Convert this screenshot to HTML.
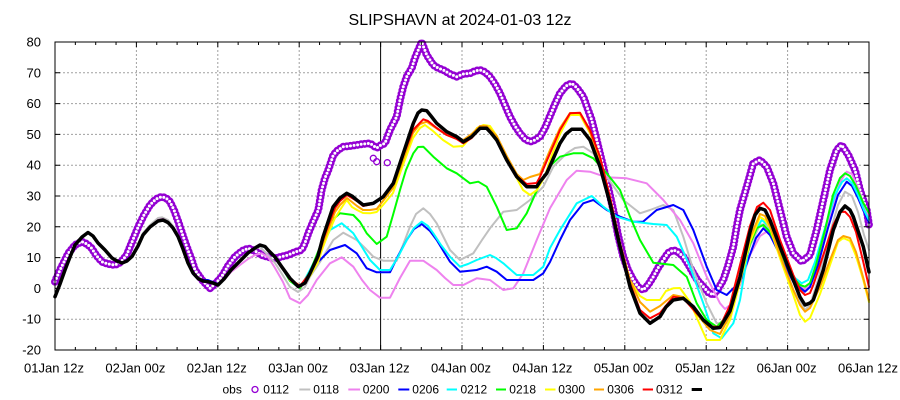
<!DOCTYPE html>
<html>
<head>
<meta charset="utf-8">
<style>
html,body{margin:0;padding:0;background:#fff;}
svg{display:block;}
text{font-family:"Liberation Sans",Arial,sans-serif;fill:#000;}
</style>
</head>
<body>
<svg width="900" height="400" viewBox="0 0 900 400" xmlns="http://www.w3.org/2000/svg">
<rect x="0" y="0" width="900" height="400" fill="#fff"/>
<text x="460" y="25" font-size="16" text-anchor="middle">SLIPSHAVN at 2024-01-03 12z</text>

<!-- grid -->
<g stroke="#a0a0a0" stroke-width="1" stroke-dasharray="2 2" fill="none">
<path d="M55 72.8H869M55 103.6H869M55 134.4H869M55 165.2H869M55 196H869M55 226.8H869M55 257.6H869M55 288.4H869M55 319.2H869"/>
<path d="M136.4 42V350M217.8 42V350M299.2 42V350M462 42V350M543.4 42V350M624.8 42V350M706.2 42V350M787.6 42V350"/>
</g>

<!-- cursor line -->
<line x1="380.6" y1="42" x2="380.6" y2="350" stroke="#000" stroke-width="1"/>

<!-- obs -->
<g fill="none" stroke-linecap="round" stroke-linejoin="round">
<polyline stroke="#9400d3" stroke-width="8" stroke-dasharray="0 3.6" points="55,281.7 60,270 68.3,253.3 75,245 81.7,241.7 87,244 91.7,248.3 96,255 101.7,261.7 108,264 115,265 121,262 126.7,255 132,242 138.3,226.7 144,215 150,205 156,199 161.7,196.7 166,198 170,201.7 174,210 178.3,221.7 182,233 186.7,246.7 191,258 195,270 202,280 210,288.3 216,283 221.7,276.7 228,266 235,256.7 242,251 248.3,248.3 255,251 261.7,255 268,257 275,258.3 282,256.5 288.3,255 295,252 301.7,250 305,243 308.3,233.3 313,222 318.3,210 321.7,190 325,178 328.3,170 333.3,155 338,150 343.3,146.7 350,146 356.7,145 363,144 370,143.3 376.7,148 381,145 385,143.3 390,130 396.7,116.7 400,100 403.3,86.7 407,76 411.7,68.3 415,58 418.3,50 421.7,42 426.7,55 433.3,65 438,68 443.3,70 450,74 456.7,76.7 463,74 470,73.3 475,71 480,70 485,72 490,76.7 495,84 500,93.3 505,105 510,116.7 515,126 520,133.3 525,139 530,141.7 535,140 540,136.7 545,128 550,116 555,104 560,93.3 566,86 571.7,83.3 577,88 583.3,96.7 587,107 591.7,120 596,137 600,153.3 607,182 613.3,210 618,235 623.3,256.7 628,270 633.3,280 638,287 643.3,290 648,285 653.3,276.7 658,268 663.3,260 668,253 673.3,250 678,252 683.3,256.7 688,264 693.3,273.3 698,281 703.3,286.7 708,292 713.3,295 718,289 723.3,280 728,266 733.3,246.7 737,225 740,210 746.7,186.7 753.3,163.3 760,160 766.7,166.7 773.3,183.3 780,210 786.7,236.7 793.3,253.3 801.7,261.7 810,255 816.7,230 823.3,200 830,170 836.7,150 841.7,145 848.3,155 855,170 860,190 866.7,210 869,225"/>
<polyline stroke="#fff" stroke-width="3" stroke-dasharray="0 3.6" points="55,281.7 60,270 68.3,253.3 75,245 81.7,241.7 87,244 91.7,248.3 96,255 101.7,261.7 108,264 115,265 121,262 126.7,255 132,242 138.3,226.7 144,215 150,205 156,199 161.7,196.7 166,198 170,201.7 174,210 178.3,221.7 182,233 186.7,246.7 191,258 195,270 202,280 210,288.3 216,283 221.7,276.7 228,266 235,256.7 242,251 248.3,248.3 255,251 261.7,255 268,257 275,258.3 282,256.5 288.3,255 295,252 301.7,250 305,243 308.3,233.3 313,222 318.3,210 321.7,190 325,178 328.3,170 333.3,155 338,150 343.3,146.7 350,146 356.7,145 363,144 370,143.3 376.7,148 381,145 385,143.3 390,130 396.7,116.7 400,100 403.3,86.7 407,76 411.7,68.3 415,58 418.3,50 421.7,42 426.7,55 433.3,65 438,68 443.3,70 450,74 456.7,76.7 463,74 470,73.3 475,71 480,70 485,72 490,76.7 495,84 500,93.3 505,105 510,116.7 515,126 520,133.3 525,139 530,141.7 535,140 540,136.7 545,128 550,116 555,104 560,93.3 566,86 571.7,83.3 577,88 583.3,96.7 587,107 591.7,120 596,137 600,153.3 607,182 613.3,210 618,235 623.3,256.7 628,270 633.3,280 638,287 643.3,290 648,285 653.3,276.7 658,268 663.3,260 668,253 673.3,250 678,252 683.3,256.7 688,264 693.3,273.3 698,281 703.3,286.7 708,292 713.3,295 718,289 723.3,280 728,266 733.3,246.7 737,225 740,210 746.7,186.7 753.3,163.3 760,160 766.7,166.7 773.3,183.3 780,210 786.7,236.7 793.3,253.3 801.7,261.7 810,255 816.7,230 823.3,200 830,170 836.7,150 841.7,145 848.3,155 855,170 860,190 866.7,210 869,225"/>
<circle cx="373.3" cy="158.3" r="3" stroke="#9400d3" stroke-width="1.3"/>
<circle cx="376.7" cy="161.7" r="3" stroke="#9400d3" stroke-width="1.3"/>
<circle cx="387.3" cy="162.7" r="3" stroke="#9400d3" stroke-width="1.3"/>
</g>

<g fill="none" stroke-linejoin="round" stroke-linecap="round" stroke-width="2">
<!-- 0112 gray -->
<polyline stroke="#c0c0c0" points="55,296.7 60,284 65,270 70,257 75,245 82,237 88,232.5 93,236 98,243 105,250 112,258 117,261 122,263 127,261 132,256.5 138,245 143,233 150,225 158,218 162,217.3 168,220 173,226 178,235 183,248 188,262 193,272 198,278 203,281 208,282 213,284 218,285 224,279 231,270 240,261 248,253 255,249 260,247 268,255 275,263 282,274 290,287 298,292 305,287 310,276.7 320,262 333.3,240 343.3,232.7 356.7,240 365,248 373.3,256.7 383.3,260.7 396.7,260.7 403,245 410,226.7 416,214 423.3,208.3 430,214 436.7,223.3 443,236 450,250 460,260 473.3,253.3 482,240 490,228.3 503.3,211.7 516.7,210 530,200 543.3,186.7 553.3,166.7 566.7,153.3 575,148 583.3,146.7 593.3,153.3 606.7,176.7 623.3,200 640,213.3 650,210 663.3,205 673.3,210 683.3,236.7 693.3,270 706.7,303.3 716.7,323.3 726.7,323.3 735,300 742,272 750,246 760,225 765,224 772,232 780,252 793.3,290 805,310 810,305 818,280 828,240 838,205 845,191.7 852,196 858,212 864,235 869,250"/>
<!-- 0118 pink -->
<polyline stroke="#ee82ee" points="55,296.7 60,284 65,270 70,257 75,245 82,237 88,232.5 93,236 98,243 105,250 112,258 117,261 122,263 127,261 132,256.5 138,246 143,235 150,227 158,220 163,219 168,222 173,228 178,236.5 183,249 188,263 193,273 198,278.5 203,281 208,282 213,284 218,285 224,280 231,272 240,265 248,259 255,255 261.7,253.3 268,257 275,268 283,282 290,298.3 300,303.3 308,295 316.7,280 330,263.3 341.7,257.3 353.3,266.7 362,280 370,290 380,297.7 390,297.7 400,278 410,260.7 423.3,260.7 436.7,270 445,278 453.3,285 463.3,285 476.7,278.3 490,280 503.3,290 513.3,288.3 523.3,273.3 536.7,240 550,208.3 566.7,180 576.7,170.7 590,171.7 606.7,177.3 626.7,178.3 646.7,183.3 663.3,200 680,220 693.3,243.3 706.7,276.7 720,303.3 725,309 730,305 740,285 750,255 760,236 766.7,231.7 773,238 780,252 793.3,280 805,290 812,280 820,255 830,215 840,182 846.7,171.7 852,174 858,188 864,205 869,218"/>
<!-- 0200 blue -->
<polyline stroke="#0000ff" points="55,296.7 60,284 65,270 70,257 75,245 82,237 88,232.5 93,236 98,243 105,250 112,258 117,261 122,263 127,261 132,256.5 138,246 143,235 150,227 158,221 163,220 168,222.5 173,228 178,236.5 183,250 188,264 193,274 198,279 203,280 208,280 213,282 218,284 224,279 231,270 240,261 248,253 255,248 260,245.5 265,247 268,250 275,257 281.7,266.7 290,280 300,287 316.7,263.3 330,250 345,245 356.7,253.3 366.7,268.3 376.7,272.3 390,272.3 398,256 406.7,240 414,229 421.7,224 430,231 436.7,240 444,252 450,261.7 460,271.7 476.7,270 486.7,266.7 496.7,271.7 506.7,280 533.3,280 543.3,273.3 550,262 560,240 570,220 583.3,203.3 593.3,200 606.7,210 620,216.7 633.3,221.7 643,221.7 656.7,210 673.3,205 683.3,210 693.3,230 706.7,266.7 716.7,290 726.7,295 733.3,288.3 740,282 748,260 756,238 763.3,228.3 770,235 780,255 793.3,282 805,291.7 810,287 818,265 828,228 838,195 846.7,181.7 852,186 858,198 864,212 869,223"/>
<!-- 0206 cyan -->
<polyline stroke="#00ffff" points="55,296.7 60,284 65,270 70,257 75,245 82,237 88,232.5 93,236 98,243 105,250 112,258 117,261 122,263 127,261 132,256.5 138,246 143,235 150,227 158,221 163,220 168,222.5 173,228 178,236.5 183,249 188,263 193,273 198,278.5 203,281 208,281.7 213,283 218,285 224,279 231,270 240,261 248,253 255,248 260,245.5 265,247 268,250 275,257 281.7,266.7 290,281 300,288.3 310,270 316.7,256.7 330,230 341.7,223.3 353.3,233.3 362,247 370,260 380,270 390,270 398,257 406.7,240 414,228 421.7,221.7 428,226 433.3,233.3 441,245 450,256.7 460,266.7 468,264 476.7,260 490,255 496,258 503.3,263.3 516.7,275 533.3,275 543.3,266.7 550,248 560,230 576.7,203.3 591.7,196 603.3,206.7 616.7,216.7 633.3,221.7 653.3,224 666.7,225 676.7,236.7 690,266.7 703.3,303.3 713.3,333.3 721.7,338.3 733.3,323.3 740,300 750,240 761.7,220 768,225 775,240 785,262 795,278 801.7,283.3 808,280 815,262 825,228 835,195 842,182 846.7,178.3 852,183 858,195 864,210 869,220"/>
<!-- 0212 green -->
<polyline stroke="#00ff00" points="55,296.7 60,284 65,270 70,257 75,245 82,237 88,232.5 93,236 98,243 105,250 112,258 117,261 122,263 127,261 132,256.5 138,246 143,235 150,227 158,221 163,220 168,222.5 173,228 178,236.5 183,249 188,263 193,273 198,278.5 203,281 208,281.7 213,283 218,285 224,279 231,270 240,261 248,253 255,248 260,245 265,246.5 268,250 275,257 281.7,266.7 290,281 300,288.3 310,272 320,246.7 330,222 340,213.3 353.3,215 360,222 366.7,233.3 376.7,244 386.7,236.7 393,215 400,190 406,170 413.3,153.3 418,147 423.3,146.7 433.3,156.7 446.7,168.3 456.7,173.3 470,183.3 478.3,181.7 486.7,186.7 496.7,206.7 506.7,230 516.7,228.3 526.7,213.3 540,183.3 550,166 560,156.7 573.3,153.3 583,153.3 593.3,158.3 606.7,173.3 620,190 630,216.7 640,240 653.3,262.7 673.3,265 686.7,276.7 696.7,303.3 706.7,320 716.7,326.7 726.7,316.7 740,280 750,244 757,228 763.3,225 770,232 780,252 793.3,278 800,285 805,286.7 810,283 816,265 825,230 833,195 840,178 845,173.3 850,176 856,186 863.3,203 869,213"/>
<!-- 0218 yellow -->
<polyline stroke="#ffff00" points="55,296.7 60,284 65,270 70,257 75,245 82,237 88,232.5 93,236 98,243 105,250 112,258 117,261 122,263 127,261 132,256.5 138,246 143,235 150,227 158,221 163,220 168,222.5 173,228 178,236.5 183,249 188,263 193,273 198,278.5 203,281 208,281.7 213,283 218,285 224,279 231,270 240,261 248,253 255,248 260,245 265,246.5 268,250 275,257 281.7,266.7 290,280 300,287 310,276 318,262 323,247 328,234 335,218 340,210 346.7,200 352,207 357,210 363,213 370,213.3 376.7,212 383,205 393,193 403,165 413,138 420,128 425,125 433,131 443,140 453.3,146.7 463,146 471.7,136 477,128 483.3,125 490,126 496.7,136 506.7,157 516.7,178 523,190 530,195 537,190 545,176 550,160 560,134 570,115 580,115 590,133 600,160 610,200 620,245 630,280 640,296 646.7,300 660,300 666,291 673.3,288.3 680,288 690,302 700,325 706.7,340 720,340 730,320 740,282 750,242 760,217 765,220 770,228 780,258 793.3,295 800,315 805,321.7 810,318 820,294 830,265 838,242 843.3,238 850,241 856,256 863.3,280 869,302"/>
<!-- 0300 orange -->
<polyline stroke="#ffa500" points="55,296.7 60,284 65,270 70,257 75,245 82,237 88,232.5 93,236 98,243 105,250 112,258 117,261 122,263 127,261 132,256.5 138,246 143,235 150,227 158,221 163,220 168,222.5 173,228 178,236.5 183,249 188,263 193,273 198,278.5 203,281 208,281.7 213,283 218,285 224,279 231,270 240,261 248,253 255,248 260,245 265,246.5 268,250 275,257 281.7,266.7 290,279 300,286 310,274 318,259 323,243 328,230 335,212 340,205 347,198 357,206 363,210 370,210 376.7,209 383,201 393,188 403,160 413,133 420,124 426.7,121.7 433,126 446.7,135 456.7,139 463.3,140 471.7,134 480,126 486.7,126 496.7,136 506.7,156 516.7,174 523.3,180 530,177 540,174 550,150 560,128 570,113 580,113 590,132 600,160 610,200 620,243 630,280 640,302 650,311.7 660,306 673.3,295 683.3,297 696.7,314 710,330 720,334 730,315 740,277 750,238 760,214 765,216 770,226 780,255 793.3,290 800,305 805,311.7 810,308 820,287 830,260 838,240 843.3,236 850,238 856,252 863.3,278 869,300"/>
<!-- 0306 red -->
<polyline stroke="#ff0000" points="55,296.7 60,284 65,270 70,257 75,245 82,237 88,232.5 93,236 98,243 105,250 112,258 117,261 122,263 127,261 132,256.5 138,246 143,235 150,227 158,221 163,220 168,222.5 173,228 178,236.5 183,249 188,263 193,273 198,278.5 203,281 208,281.7 213,283 218,285 224,279 231,270 240,261 248,253 255,248 260,245 265,246.5 268,250 275,257 281.7,266.7 290,279 300,286 310,273 318,257 323,240 328,226 335,208 340,201 347,195 357,201 363,206 373,204 383,197 393,184 403,156 413,130 423.3,119.3 428,121 436.7,128 446.7,135 456.7,139 463.3,143.3 471.7,138 480,129 486.7,129 496.7,140 506.7,160 516.7,176 526.7,184 536.7,183 540,176.7 550,153.3 560,130 570,113.3 580,112.7 590,130 600,156.7 610,196.7 620,243.3 630,283.3 640,310 650,318.3 660,313 673.3,296.7 683.3,298.3 696.7,313.3 710,326.7 720,326.7 730,305 740,265 750,226 757,207 763.3,202.7 770,210 780,240 793.3,275 800,290 805,295 810,293 813.3,285 823.3,255 833.3,225 840,212 845,211.7 850,217 856,232 863.3,262 869,287"/>
<!-- 0312 black -->
<polyline stroke="#000" stroke-width="3.5" points="55,296.7 60,284 65,270 70,257 75,245 82,237 88,232.5 93,236 98,243 105,250 112,258 117,261 122,263 127,261 132,256.5 138,246 143,235 150,227 158,221 163,220 168,222.5 173,228 178,236.5 183,249 188,263 193,273 198,278.5 203,281 208,281.7 213,283 218,285 224,279 231,270 240,261 248,253 255,248 260,245 265,246.5 268,250 275,257 281.7,266.7 290,278.3 298.3,286.7 305,283 310,273.3 318,256 323,237 328,222 333,207 340,198 346.7,193.3 352,196 356.7,200 363.3,205 373.3,203.3 383.3,196.7 393.3,183.3 403.3,153.3 413.3,123.3 418,113 421.7,110 426.7,110.7 431,116 436.7,123.3 446.7,131.7 456.7,136.7 463.3,141.7 471.7,136.7 480,128.3 486.7,128.3 491,133 496.7,140 506.7,160 516.7,176.7 526.7,186.7 536.7,186.7 540,181.7 546.7,173.3 550,166 560,143.3 566,134 571.7,129.3 581.7,129.3 590,140 600,166.7 610,203.3 620,246.7 630,286.7 640,313.3 650,323.3 660,316.7 666,307 673.3,300 683.3,298.3 693.3,306.7 703.3,320 713.3,328.3 720,327.5 730,311 740,277 750,232 755,215 760,208.3 765,210 770,220 780,246.7 793.3,280 800,297 805,305 810,303 813.3,300 823.3,270 833.3,230 840,212 845,206 850,210 853.3,216.7 863.3,246.7 869,272"/>
</g>

<!-- border and ticks -->
<g stroke="#000" stroke-width="1" fill="none">
<rect x="55" y="42" width="814" height="308"/>
<path d="M55 72.8h5M55 103.6h5M55 134.4h5M55 165.2h5M55 196h5M55 226.8h5M55 257.6h5M55 288.4h5M55 319.2h5M869 72.8h-5M869 103.6h-5M869 134.4h-5M869 165.2h-5M869 196h-5M869 226.8h-5M869 257.6h-5M869 288.4h-5M869 319.2h-5"/>
<path d="M136.4 350v-5M217.8 350v-5M299.2 350v-5M380.6 350v-5M462 350v-5M543.4 350v-5M624.8 350v-5M706.2 350v-5M787.6 350v-5M136.4 42v5M217.8 42v5M299.2 42v5M380.6 42v5M462 42v5M543.4 42v5M624.8 42v5M706.2 42v5M787.6 42v5"/>
<path d="M75.35 350v-3M95.7 350v-3M116.05 350v-3M156.75 350v-3M177.1 350v-3M197.45 350v-3M238.15 350v-3M258.5 350v-3M278.85 350v-3M319.55 350v-3M339.9 350v-3M360.25 350v-3M400.95 350v-3M421.3 350v-3M441.65 350v-3M482.35 350v-3M502.7 350v-3M523.05 350v-3M563.75 350v-3M584.1 350v-3M604.45 350v-3M645.15 350v-3M665.5 350v-3M685.85 350v-3M726.55 350v-3M746.9 350v-3M767.25 350v-3M807.95 350v-3M828.3 350v-3M848.65 350v-3"/>
<path d="M75.35 42v3M95.7 42v3M116.05 42v3M156.75 42v3M177.1 42v3M197.45 42v3M238.15 42v3M258.5 42v3M278.85 42v3M319.55 42v3M339.9 42v3M360.25 42v3M400.95 42v3M421.3 42v3M441.65 42v3M482.35 42v3M502.7 42v3M523.05 42v3M563.75 42v3M584.1 42v3M604.45 42v3M645.15 42v3M665.5 42v3M685.85 42v3M726.55 42v3M746.9 42v3M767.25 42v3M807.95 42v3M828.3 42v3M848.65 42v3"/>
</g>

<!-- y labels -->
<g font-size="13" text-anchor="end">
<text x="41" y="46.5">80</text>
<text x="41" y="77.3">70</text>
<text x="41" y="108.1">60</text>
<text x="41" y="138.9">50</text>
<text x="41" y="169.7">40</text>
<text x="41" y="200.5">30</text>
<text x="41" y="231.3">20</text>
<text x="41" y="262.1">10</text>
<text x="41" y="292.9">0</text>
<text x="41" y="323.7">-10</text>
<text x="41" y="354.5">-20</text>
</g>

<!-- x labels -->
<g font-size="13" text-anchor="middle">
<text x="54" y="372.5">01Jan 12z</text>
<text x="135.4" y="372.5">02Jan 00z</text>
<text x="216.8" y="372.5">02Jan 12z</text>
<text x="298.2" y="372.5">03Jan 00z</text>
<text x="379.6" y="372.5">03Jan 12z</text>
<text x="461" y="372.5">04Jan 00z</text>
<text x="542.4" y="372.5">04Jan 12z</text>
<text x="623.8" y="372.5">05Jan 00z</text>
<text x="705.2" y="372.5">05Jan 12z</text>
<text x="786.6" y="372.5">06Jan 00z</text>
<text x="868" y="372.5">06Jan 12z</text>
</g>

<!-- legend -->
<g font-size="12">
<text x="222.5" y="393.5">obs</text>
<circle cx="255" cy="389.5" r="3" fill="none" stroke="#9400d3" stroke-width="1.3"/>
<text x="263.3" y="393.5">0112</text>
<line x1="299.3" y1="389.5" x2="310.3" y2="389.5" stroke="#c0c0c0" stroke-width="2"/>
<text x="313.3" y="393.5">0118</text>
<line x1="348.3" y1="389.5" x2="360" y2="389.5" stroke="#ee82ee" stroke-width="2"/>
<text x="362.7" y="393.5">0200</text>
<line x1="398.3" y1="389.5" x2="409.3" y2="389.5" stroke="#0000ff" stroke-width="2"/>
<text x="412.3" y="393.5">0206</text>
<line x1="446.7" y1="389.5" x2="457" y2="389.5" stroke="#00ffff" stroke-width="2"/>
<text x="460.5" y="393.5">0212</text>
<line x1="496" y1="389.5" x2="506" y2="389.5" stroke="#00ff00" stroke-width="2"/>
<text x="509.3" y="393.5">0218</text>
<line x1="545" y1="389.5" x2="555.5" y2="389.5" stroke="#ffff00" stroke-width="2"/>
<text x="558.3" y="393.5">0300</text>
<line x1="594" y1="389.5" x2="604" y2="389.5" stroke="#ffa500" stroke-width="2"/>
<text x="607.3" y="393.5">0306</text>
<line x1="642.7" y1="389.5" x2="653" y2="389.5" stroke="#ff0000" stroke-width="2"/>
<text x="656" y="393.5">0312</text>
<line x1="691.7" y1="389.5" x2="702" y2="389.5" stroke="#000" stroke-width="3"/>
</g>
</svg>
</body>
</html>
